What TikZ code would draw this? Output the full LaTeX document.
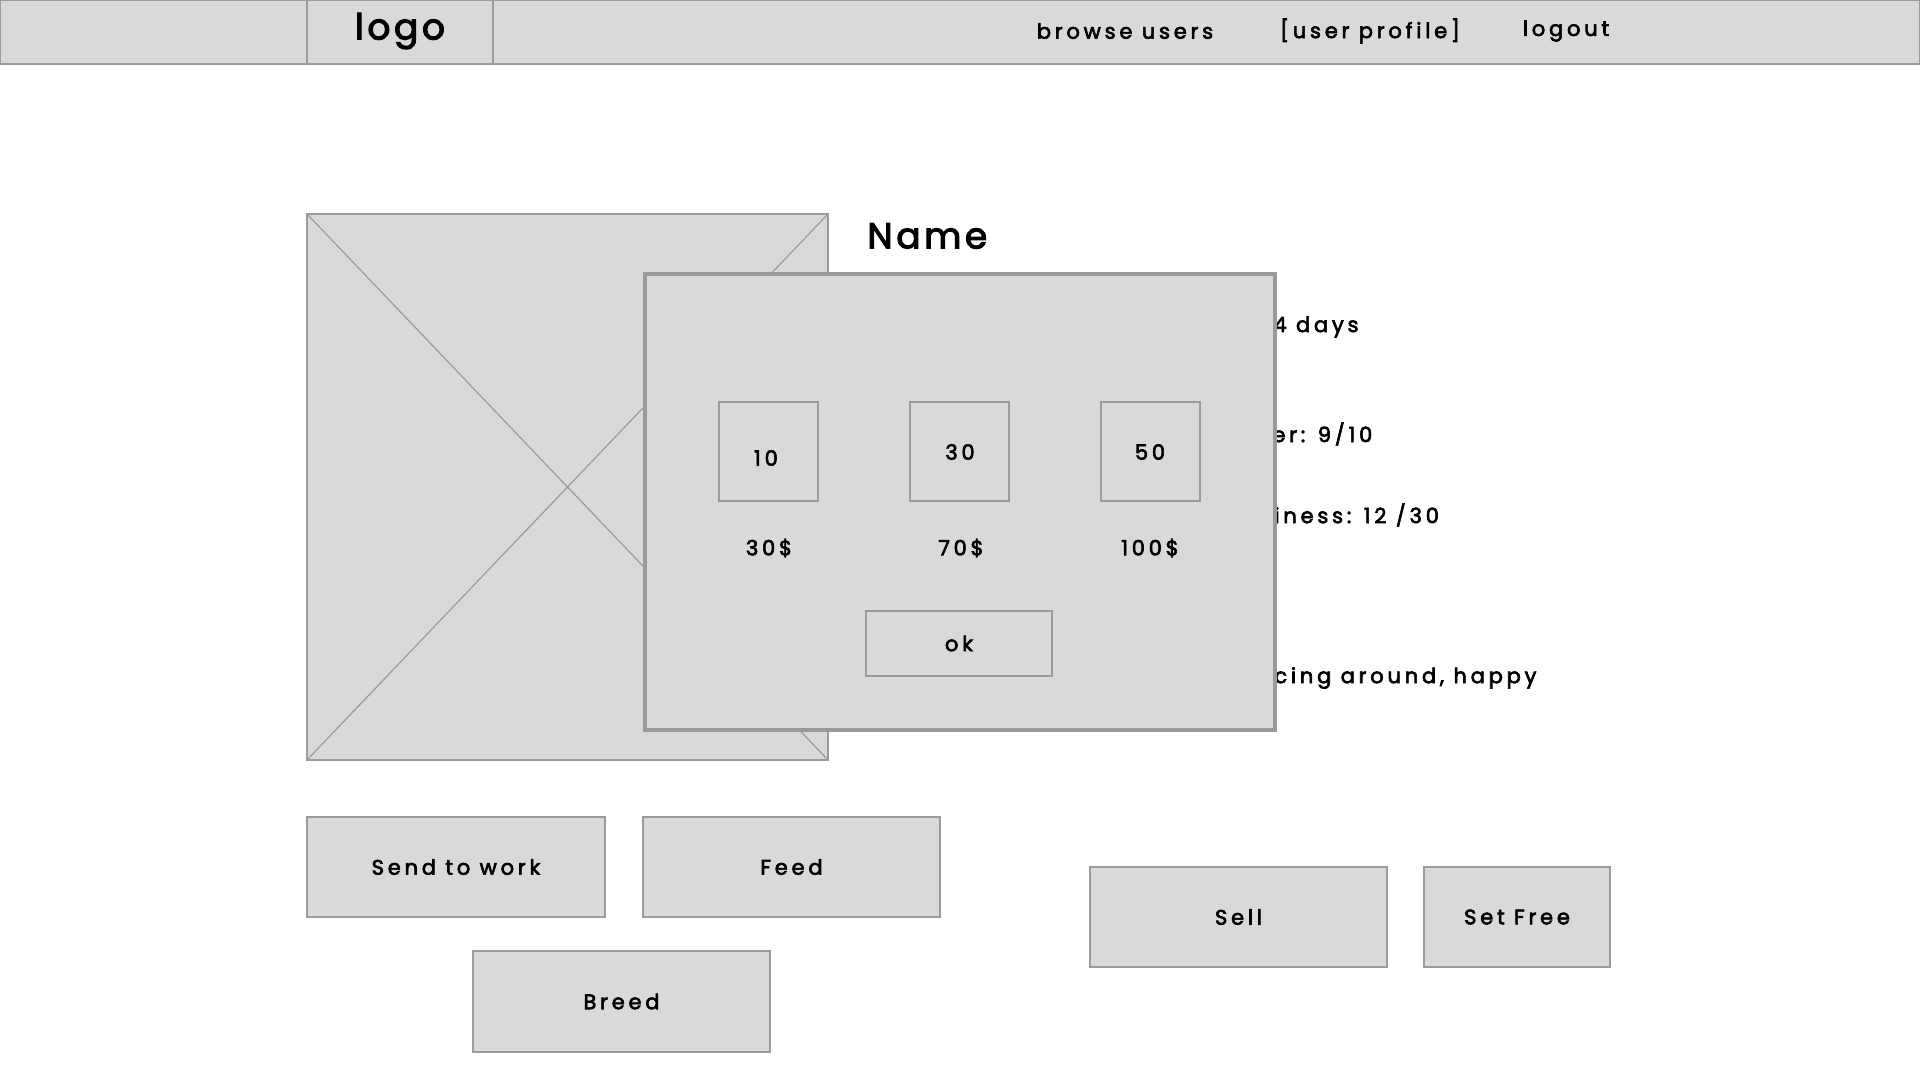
\documentclass[tikz,border=0pt]{standalone}
\usepackage{fontspec}
\setmainfont{Poppins}[LetterSpace=18, FakeBold=3]
\newfontfamily\bigfont{Poppins}[LetterSpace=10, FakeBold=3]
\definecolor{wire}{HTML}{D9D9D9}
\definecolor{edge}{HTML}{9B9B9B}
\definecolor{dlg}{HTML}{999999}
\tikzset{
  box/.style={draw=edge, fill=wire, line width=0.6pt, inner sep=0pt, outer sep=0pt},
  txt/.style={font=\fontsize{10.5}{12}\selectfont, text=black, inner sep=0pt},
  big/.style={font=\bigfont\fontsize{18}{21}\selectfont, text=black, inner sep=0pt},
}
\begin{document}
\begin{tikzpicture}[x=0.5pt,y=-0.5pt]
\useasboundingbox (0,0) rectangle (1920,1080);
\fill[white] (0,0) rectangle (1920,1080);
% header
\node[box, minimum width=960pt, minimum height=32pt, anchor=north west] (header) at (0,0) {};
\node[box, minimum width=93pt, minimum height=32pt, anchor=north west] (logobox) at (307,0) {};
\node[big] (logo) at (400,31) {logo};
\node[txt] (browse) at (1125,31) {browse users};
\node[txt] (profile) at (1370,31) {[user profile]};
\node[txt] (logout) at (1566,31) {logout};
% image placeholder
\node[box, minimum width=260.5pt, minimum height=273pt] (img) at (567.5,487) {};
\draw[edge, line width=0.6pt] (img.north west) -- (img.south east) (img.north east) -- (img.south west);
% name and info
\node[big, anchor=west] (name) at (867,236) {Name};
\node[txt, anchor=west] (age) at (1273,327) {4 days};
\node[txt, anchor=west] (hunger) at (1272,434) {er: 9/10};
\node[txt, anchor=west] (happy) at (1274,515) {iness: 12 /30};
\node[txt, anchor=west] (status) at (1274,678) {cing around, happy};
% buttons
\node[box, txt, minimum width=149pt, minimum height=50pt] (work) at (456,867) {Send to work};
\node[box, txt, minimum width=148.5pt, minimum height=50pt] (feed) at (791.5,867) {Feed};
\node[box, txt, minimum width=148.5pt, minimum height=50.5pt] (breed) at (621.5,1001.5) {Breed};
\node[box, txt, minimum width=148.5pt, minimum height=50pt] (sell) at (1238.5,917) {Sell};
\node[box, txt, minimum width=93pt, minimum height=50pt] (free) at (1517,917) {Set Free};
% dialog
\node[box, draw=dlg, line width=1.6pt, minimum width=315pt, minimum height=228pt] (dialog) at (960,502) {};
\node[box, minimum width=49.5pt, minimum height=49.5pt] (b10) at (768.5,451.5) {};
\node[box, minimum width=49.5pt, minimum height=49.5pt] (b30) at (959.5,451.5) {};
\node[box, minimum width=49.5pt, minimum height=49.5pt] (b50) at (1150.5,451.5) {};
\node[txt] (t10) at (766,458) {10};
\node[txt] (t30) at (960,452) {30};
\node[txt] (t50) at (1150,452) {50};
\node[txt] (p30) at (769,548) {30\$};
\node[txt] (p70) at (961,548) {70\$};
\node[txt] (p100) at (1150,548) {100\$};
\node[box, txt, minimum width=93pt, minimum height=32.5pt] (ok) at (959,643.5) {ok};
\end{tikzpicture}
\end{document}
